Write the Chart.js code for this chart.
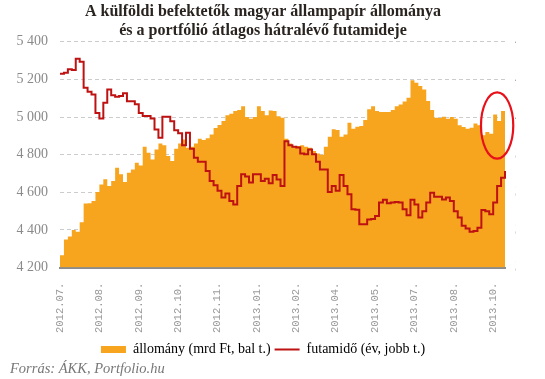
<!DOCTYPE html>
<html>
<head>
<meta charset="utf-8">
<script src="https://cdn.jsdelivr.net/npm/chart.js@4"></script>
<style>
  html, body { margin: 0; padding: 0; background: #fff; }
  #wrap { width: 545px; height: 379px; }
</style>
</head>
<body>
<div id="wrap"><canvas id="chart"></canvas></div>
<script>
// tick labels shown on the x axis, one every 10 points
const tickLabels = ['2012.07.', '2012.08.', '2012.09.', '2012.10.', '2012.11.', '2013.01.',
                    '2013.02.', '2013.04.', '2013.05.', '2013.07.', '2013.08.', '2013.10.'];
const tickEvery = 10;

// állomány, mrd Ft (left axis)
const allomany = [
  4265, 4350, 4365, 4400, 4390, 4441, 4540, 4542, 4554, 4602,
  4642, 4669, 4634, 4660, 4731, 4696, 4655, 4704, 4722, 4757,
  4743, 4842, 4811, 4775, 4828, 4860, 4850, 4793, 4766, 4832,
  4860, 4881, 4837, 4842, 4860, 4885, 4878, 4887, 4908, 4942,
  4958, 4979, 5009, 5018, 5032, 5037, 5058, 5000, 4991, 5000,
  5058, 5032, 5009, 5035, 5032, 5005, 4996, 4885, 4860, 4846,
  4846, 4850, 4842, 4837, 4819, 4806, 4800, 4842, 4896, 4935,
  4931, 4896, 4908, 4970, 4938, 4949, 4952, 4984, 5041, 5058,
  5032, 5027, 5027, 5027, 5037, 5058, 5067, 5083, 5103, 5196,
  5182, 5165, 5147, 5085, 5037, 4996, 4995, 5002, 4991, 5000,
  4991, 4956, 4947, 4938, 4943, 4966, 4956, 4903, 4920, 4911,
  5014, 4979, 5032, 5073
];

// futamidő, év (right axis)
const futamido = [
  4.115, 4.118, 4.127, 4.125, 4.155, 4.147, 4.078, 4.067, 4.060, 4.011,
  3.996, 4.038, 4.073, 4.058, 4.054, 4.056, 4.063, 4.042, 4.042, 4.034,
  4.011, 4.003, 4.003, 3.996, 3.967, 3.945, 4.001, 4.001, 3.989, 3.965,
  3.957, 3.925, 3.958, 3.916, 3.892, 3.881, 3.881, 3.857, 3.830, 3.819,
  3.804, 3.786, 3.797, 3.777, 3.768, 3.817, 3.848, 3.842, 3.826, 3.848,
  3.848, 3.830, 3.836, 3.824, 3.846, 3.834, 3.817, 3.936, 3.925, 3.921,
  3.919, 3.903, 3.901, 3.914, 3.901, 3.881, 3.861, 3.861, 3.801, 3.817,
  3.804, 3.846, 3.817, 3.795, 3.755, 3.754, 3.715, 3.715, 3.728, 3.729,
  3.737, 3.773, 3.780, 3.771, 3.773, 3.774, 3.773, 3.755, 3.739, 3.780,
  3.768, 3.733, 3.750, 3.773, 3.799, 3.788, 3.788, 3.781, 3.786, 3.777,
  3.750, 3.733, 3.711, 3.704, 3.695, 3.697, 3.706, 3.753, 3.750, 3.742,
  3.773, 3.817, 3.839, 3.857
];

const ORANGE = '#F7A51E';
const RED = '#BE1212';
const SERIF = "'Liberation Serif', 'DejaVu Serif', serif";

// red ellipse around the last weeks (index / left-axis value units)
const circleAt = { index: 111, value: 4955, rx: 4.1, ry: 176 };

const circlePlugin = {
  id: 'circle',
  afterDatasetsDraw(chart) {
    const xs = chart.scales.x, ys = chart.scales.y;
    const cx = xs.getPixelForValue(circleAt.index);
    const cy = ys.getPixelForValue(circleAt.value);
    const rx = Math.abs(xs.getPixelForValue(circleAt.index + circleAt.rx) - cx);
    const ry = Math.abs(ys.getPixelForValue(circleAt.value + circleAt.ry) - cy);
    const ctx = chart.ctx;
    ctx.save();
    ctx.beginPath();
    ctx.ellipse(cx, cy, rx, ry, 0, 0, Math.PI * 2);
    ctx.strokeStyle = '#E8101A';
    ctx.lineWidth = 2.2;
    ctx.stroke();
    ctx.restore();
  }
};

new Chart('chart', {
  type: 'line',
  data: {
    labels: allomany.map((v, i) => i),
    datasets: [
      {
        label: 'futamidő (év, jobb t.)',
        data: futamido,
        yAxisID: 'y2',
        borderColor: RED,
        borderWidth: 2,
        pointRadius: 0,
        stepped: true,
        fill: false,
        order: 0
      },
      {
        label: 'állomány (mrd Ft, bal t.)',
        data: allomany,
        yAxisID: 'y',
        borderWidth: 0,
        backgroundColor: ORANGE,
        borderColor: ORANGE,
        pointRadius: 0,
        stepped: true,
        fill: 'start',
        order: 1
      }
    ]
  },
  options: {
    responsive: true,
    maintainAspectRatio: false,
    animation: false,
    layout: { padding: { left: 10, right: 29, top: 0, bottom: 0 } },
    plugins: {
      title: {
        display: true,
        text: ['A külföldi befektetők magyar állampapír állománya',
               'és a portfólió átlagos hátralévő futamideje'],
        color: '#2a2420',
        font: { family: SERIF, size: 16, weight: 'bold', lineHeight: 1.15 },
        padding: { top: 3, bottom: 2 }
      },
      subtitle: {
        display: true,
        position: 'bottom',
        align: 'start',
        text: 'Forrás: ÁKK, Portfolio.hu',
        color: '#777',
        font: { family: SERIF, size: 14.5, style: 'italic', lineHeight: 1.2 },
        padding: { top: -6, bottom: 1 }
      },
      legend: {
        display: true,
        position: 'bottom',
        labels: {
          color: '#666',
          font: { family: SERIF, size: 14 },
          padding: 4,
          usePointStyle: true,
          pointStyleWidth: 25,
          boxHeight: 7,
          generateLabels: function () {
            return [
              { text: 'állomány (mrd Ft, bal t.)', fillStyle: ORANGE, strokeStyle: ORANGE,
                lineWidth: 0, pointStyle: 'rect', hidden: false, datasetIndex: 1 },
              { text: 'futamidő (év, jobb t.)', fillStyle: RED, strokeStyle: RED,
                lineWidth: 2, pointStyle: 'line', hidden: false, datasetIndex: 0 }
            ];
          }
        }
      },
      tooltip: { enabled: false }
    },
    scales: {
      x: {
        type: 'category',
        grid: { display: false, drawTicks: false },
        border: { display: true, color: '#8c8c8c', width: 2 },
        ticks: {
          autoSkip: false,
          maxRotation: 90,
          minRotation: 90,
          padding: 15,
          color: '#9a9a9a',
          font: { family: "'Liberation Mono', monospace", size: 10.5 },
          callback: function (value, index) {
            return index % tickEvery === 0 ? tickLabels[index / tickEvery] : null;
          }
        },
        afterFit: function (s) { s.height = 71; }
      },
      y: {
        position: 'left',
        min: 4200,
        max: 5400,
        grid: { color: '#cccccc', lineWidth: 1, drawTicks: false },
        border: { display: false, dash: [4, 3] },
        ticks: {
          stepSize: 200,
          padding: 12,
          color: '#8a8a8a',
          font: { family: SERIF, size: 14 },
          callback: function (v) {
            const s = String(v);
            return s.slice(0, s.length - 3) + ' ' + s.slice(-3);
          }
        },
        afterFit: function (s) { s.width = 50; }
      },
      y2: {
        position: 'right',
        min: 3.6,
        max: 4.2,
        grid: { display: false, drawTicks: false },
        border: { display: false },
        ticks: {
          stepSize: 0.1,
          padding: 10,
          color: '#8a8a8a',
          font: { family: SERIF, size: 14 },
          callback: function (v) { return v.toFixed(1).replace('.', ','); }
        },
        afterFit: function (s) { s.width = 11; }
      }
    }
  },
  plugins: [circlePlugin]
});
</script>
</body>
</html>
